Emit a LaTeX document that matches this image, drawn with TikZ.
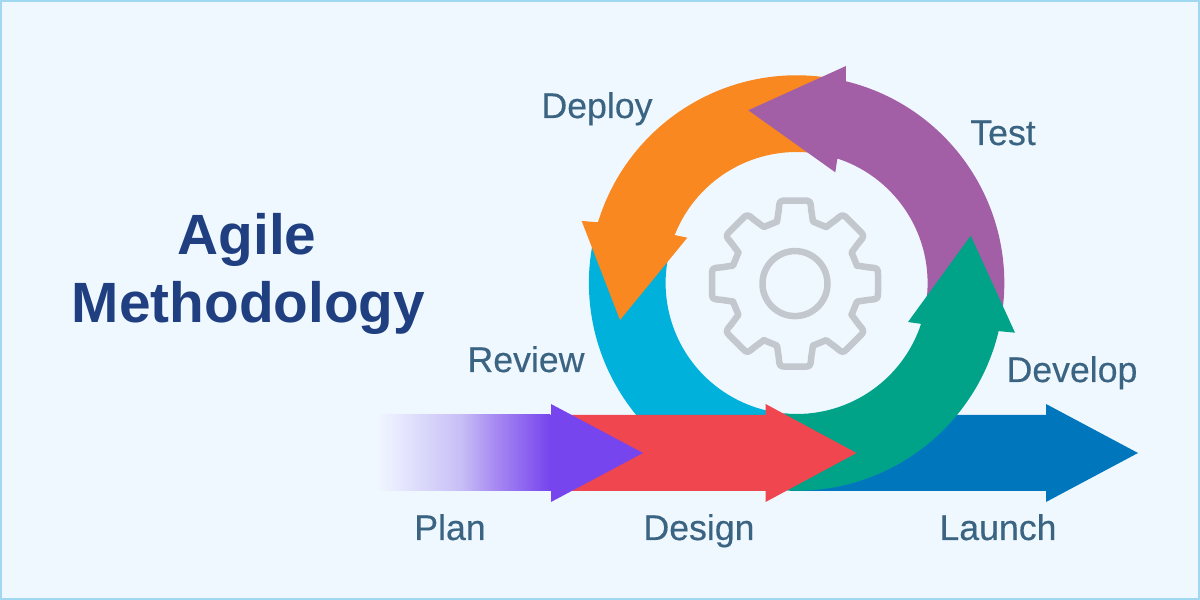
\documentclass[tikz,border=0pt]{standalone}
\usepackage{fontspec}
\setmainfont{Liberation Sans}
\newfontfamily\stagefont[FakeBold=0.35]{Liberation Sans}
\usetikzlibrary{calc}
\definecolor{pagebg}{HTML}{F0F8FF}
\definecolor{pageedge}{HTML}{9FD8F0}
\definecolor{planc}{HTML}{7745EE}
\definecolor{plancA}{HTML}{E6E8FD}
\definecolor{plancB}{HTML}{C8BFF6}
\definecolor{plancC}{HTML}{A98DF1}
\definecolor{designc}{HTML}{EF4650}
\definecolor{launchc}{HTML}{0077BD}
\definecolor{developc}{HTML}{00A388}
\definecolor{testc}{HTML}{A25FA5}
\definecolor{deployc}{HTML}{F98820}
\definecolor{reviewc}{HTML}{00B1DC}
\definecolor{gearc}{HTML}{C3C8CE}
\definecolor{labelc}{HTML}{3A6482}
\definecolor{titlec}{HTML}{1F3F80}
% fade of the plan arrow's tail; TikZ maps the path onto the 25bp..75bp band
\pgfdeclarehorizontalshading{planfade}{100bp}{
  color(0bp)=(pagebg);
  color(25bp)=(pagebg);
  color(32.1bp)=(plancA);
  color(49.3bp)=(plancB);
  color(58.7bp)=(plancC);
  color(75bp)=(planc);
  color(100bp)=(planc)}
\tikzset{
  stage/.style={font=\stagefont\fontsize{35.8}{42}\selectfont, text=labelc, anchor=base, inner sep=0pt},
  headline/.style={font=\fontsize{57}{66}\bfseries\selectfont, text=titlec, anchor=base, inner sep=0pt},
  gearline/.style={draw=gearc, line width=6.5bp, line join=round, line cap=round},
}
\newcommand{\Ro}{207.7bp}
\newcommand{\Ri}{131bp}
\begin{document}
\begin{tikzpicture}[x=1bp,y=1bp]
\useasboundingbox (0,0) rectangle (1200,600);
\fill[pagebg] (0,0) rectangle (1200,600);
\draw[pageedge, line width=2bp] (1,1) rectangle (1199,599);
\coordinate (c) at (796.6,317);
\coordinate (g) at (795,316.4);

% straight run, lowest layer
\fill[launchc] (790,185) -- (1046,185) -- (1046,196) -- (1138,147) -- (1046,98) -- (1046,109) -- (790,109) -- cycle;

% review segment of the ring
\fill[reviewc] ($(c)+(168:\Ro)$) arc[start angle=168, end angle=266, radius=\Ro]
  -- ($(c)+(266:\Ri)$) arc[start angle=266, end angle=168, radius=\Ri] -- cycle;

% deploy segment
\fill[deployc] ($(c)+(82:\Ro)$) arc[start angle=82, end angle=163, radius=\Ro]
  -- (581.7,379) -- (620,280) -- (687.3,362.3) -- (674.3,365)
  -- ($(c)+(158.1:\Ri)$) arc[start angle=158.1, end angle=82, radius=\Ri] -- cycle;

% test segment
\fill[testc] ($(c)+(-7:\Ro)$) arc[start angle=-7, end angle=76.3, radius=\Ro]
  -- (846,534) -- (748.3,489.7) -- (835.3,427.7) -- (837.3,441)
  -- ($(c)+(71.2:\Ri)$) arc[start angle=71.2, end angle=-7, radius=\Ri] -- cycle;

% develop segment
\fill[developc] ($(c)+(265:\Ro)$) arc[start angle=265, end angle=346.6, radius=\Ro]
  -- (1015,267.3) -- (970.7,364.3) -- (908,278) -- (921.7,276)
  -- ($(c)+(342:\Ri)$) arc[start angle=342, end angle=265, radius=\Ri] -- cycle;

% design arrow
\fill[designc] (560,185) -- (765.6,185) -- (765.6,196) -- (856.5,147) -- (765.6,98) -- (765.6,109) -- (560,109) -- cycle;

% plan arrow with its fading tail
\shade[shading=planfade] (375,109) rectangle (550,185);
\fill[planc] (549.5,185) -- (551,185) -- (551,196) -- (643,147) -- (551,98) -- (551,109) -- (549.5,109) -- cycle;

% gear: one tooth and the root that follows it, turned eight times
\foreach \a in {0,45,...,315} {
  \draw[gearline, shift={(g)}, rotate=\a]
    (-18,62) -- (-16.2,74) .. controls (-15.5,83) .. (-8,83) -- (8,83)
    .. controls (15.5,83) .. (16.2,74) -- (18,62) -- (31.1,56.6);
}
\draw[gearline] (g) circle[radius=32.5bp];

% labels
\node[headline] (titleA) at (247,345) {Agile};
\node[headline] (titleB) at (248.5,277) {Methodology};
\node[stage] (deploy) at (597,482) {Deploy};
\node[stage] (test) at (1003,455) {Test};
\node[stage] (review) at (526,228) {Review};
\node[stage] (develop) at (1072,218) {Develop};
\node[stage] (plan) at (450,60) {Plan};
\node[stage] (design) at (699,60) {Design};
\node[stage] (launch) at (998,60) {Launch};
\end{tikzpicture}
\end{document}
